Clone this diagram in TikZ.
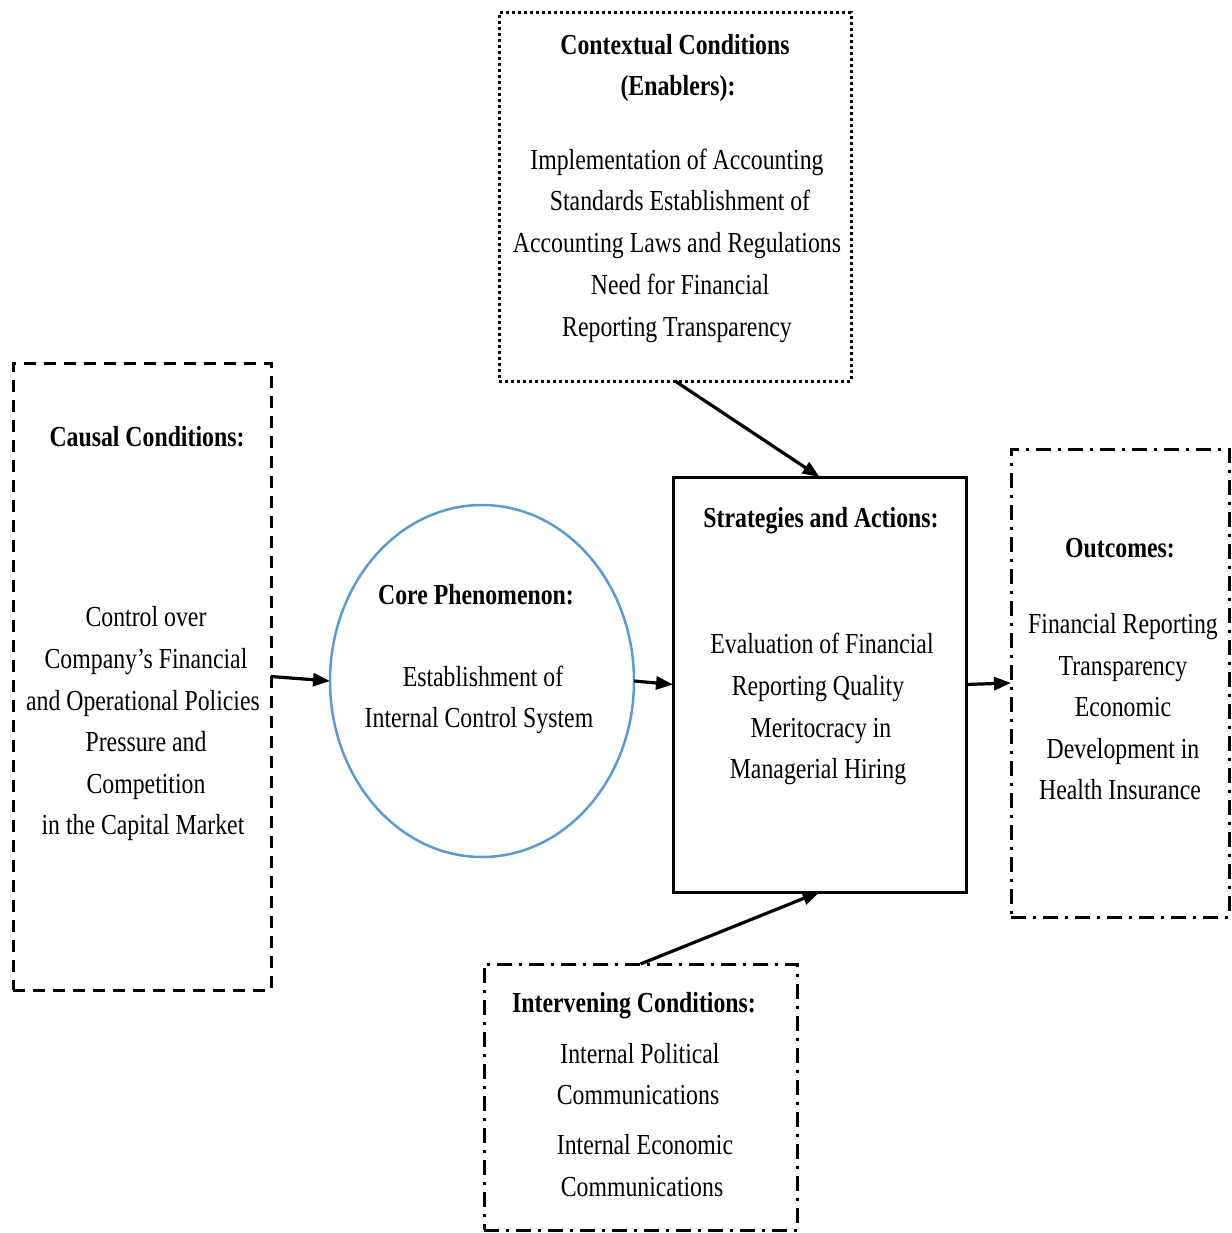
\documentclass[tikz,border=0pt]{standalone}
\usepackage{fontspec}
\setmainfont{Liberation Serif}[FakeStretch=0.82]
\usetikzlibrary{arrows.meta,shapes.geometric}
\definecolor{coreblue}{RGB}{90,155,215}
\tikzset{
  boxframe/.style={draw=black, line width=3pt, minimum width=#1, inner sep=0pt, outer sep=0pt},
  txt/.style={font=\fontsize{29}{34}\selectfont, inner sep=0pt, anchor=base},
  ttl/.style={font=\fontsize{29}{34}\selectfont\bfseries, inner sep=0pt, anchor=base},
  conn/.style={line width=3.2pt, -{Triangle[length=17pt,width=13pt]}},
  dotline/.style={dash pattern=on 3pt off 3pt},
  dashline/.style={dash pattern=on 12pt off 8pt},
  dashdotline/.style={dash pattern=on 15pt off 7pt on 3pt off 7pt},
}
\begin{document}
\begin{tikzpicture}[x=1pt,y=-1pt]
\useasboundingbox (0,0) rectangle (1231,1233);
% boxes
\node[boxframe=352pt, minimum height=368pt, dotline] (ctx) at (675,197) {};
\node[boxframe=258pt, minimum height=627pt, dashline] (causal) at (142,676.5) {};
\node[draw=coreblue, line width=2.5pt, ellipse, minimum width=304pt, minimum height=352pt, inner sep=0pt, outer sep=0pt] (core) at (482,681) {};
\node[boxframe=293pt, minimum height=415pt] (strat) at (819.5,684.5) {};
\node[boxframe=218pt, minimum height=468pt, dashdotline] (outc) at (1120,683) {};
\node[boxframe=313pt, minimum height=266pt, dashdotline] (interv) at (640.5,1097) {};
% contextual texts
\node[ttl] (ctx1) at (675,55) {Contextual Conditions};
\node[ttl] (ctx2) at (678,96) {(Enablers):};
\node[txt] (ctx3) at (677,170) {Implementation of Accounting};
\node[txt] (ctx4) at (680,211) {Standards Establishment of};
\node[txt] (ctx5) at (677,253) {Accounting Laws and Regulations};
\node[txt] (ctx6) at (680,294) {Need for Financial};
\node[txt] (ctx7) at (677,336) {Reporting Transparency};
% causal texts
\node[ttl] (ca1) at (147,446) {Causal Conditions:};
\node[txt] (ca2) at (146,626) {Control over};
\node[txt] (ca3) at (146,668) {Company’s Financial};
\node[txt] (ca4) at (143,710) {and Operational Policies};
\node[txt] (ca5) at (146,751) {Pressure and};
\node[txt] (ca6) at (146,793) {Competition};
\node[txt] (ca7) at (143,834) {in the Capital Market};
% core texts
\node[ttl] (co1) at (476,604) {Core Phenomenon:};
\node[txt] (co2) at (483,686) {Establishment of};
\node[txt] (co3) at (479,727) {Internal Control System};
% strategies texts
\node[ttl] (st1) at (821,527) {Strategies and Actions:};
\node[txt] (st2) at (822,653) {Evaluation of Financial};
\node[txt] (st3) at (818,695) {Reporting Quality};
\node[txt] (st4) at (821,737) {Meritocracy in};
\node[txt] (st5) at (818,778) {Managerial Hiring};
% outcomes texts
\node[ttl] (ou1) at (1120,557) {Outcomes:};
\node[txt] (ou2) at (1123,633) {Financial Reporting};
\node[txt] (ou3) at (1123,675) {Transparency};
\node[txt] (ou4) at (1123,716) {Economic};
\node[txt] (ou5) at (1123,758) {Development in};
\node[txt] (ou6) at (1120,799) {Health Insurance};
% intervening texts
\node[ttl] (in1) at (634,1012) {Intervening Conditions:};
\node[txt] (in2) at (640,1063) {Internal Political};
\node[txt] (in3) at (638,1104) {Communications};
\node[txt] (in4) at (645,1154) {Internal Economic};
\node[txt] (in5) at (642,1196) {Communications};
% connectors
\draw[conn] (causal.east) -- (core.west);
\draw[conn] (core.east) -- (strat.west);
\draw[conn] (strat.east) -- (outc.west);
\draw[conn] (ctx.south) -- (strat.north);
\draw[conn] (interv.north) -- (strat.south);
\end{tikzpicture}
\end{document}
